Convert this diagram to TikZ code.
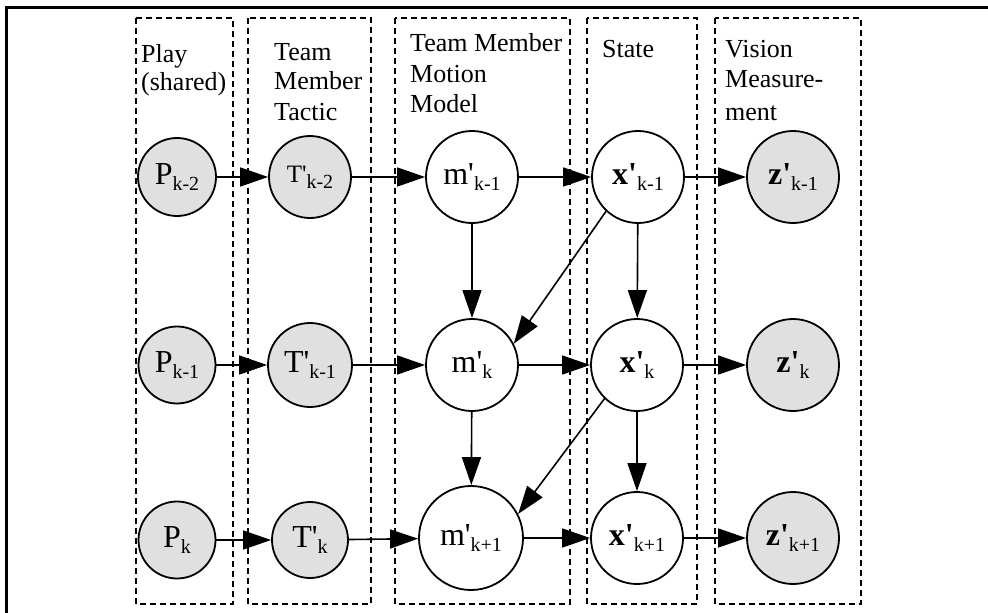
\documentclass[tikz,border=0pt]{standalone}
\usepackage{fontspec}
\setmainfont{Liberation Serif}
\usetikzlibrary{arrows.meta}
\definecolor{nodegray}{RGB}{224,224,224}
\newcommand\nodelab[3][32]{{\fontsize{#1}{#1}\selectfont #2}\raisebox{-6pt}{\fontsize{20}{20}\selectfont #3}}
\newcommand\pr{\textquotesingle}
\tikzset{
  obsnode/.style={circle, draw, line width=1.8pt, fill=nodegray, inner sep=0pt},
  hidnode/.style={circle, draw, line width=1.8pt, fill=white, inner sep=0pt},
  link/.style={line width=1.6pt, -{Triangle[length=28pt,width=19pt]}},
  lane/.style={line width=1.7pt, dash pattern=on 6pt off 4pt},
  lanetext/.style={font=\fontsize{26}{30}\selectfont, inner sep=0pt, anchor=base west},
}
\begin{document}
\begin{tikzpicture}[x=1pt,y=-1pt]
\useasboundingbox (0,0) rectangle (988,613);
% outer frame (cropped)
\draw[line width=3pt] (6,613) -- (6,7) -- (988,7);
% lanes
\draw[lane] (136,18) rectangle (233,604);
\draw[lane] (248,18) rectangle (371,604);
\draw[lane] (395,18) rectangle (570,604);
\draw[lane] (587,18) rectangle (697,604);
\draw[lane] (715,18) rectangle (861,604);
% lane titles
\node[lanetext] (l1a) at (141,62) {Play};
\node[lanetext] (l1b) at (141,90) {(shared)};
\node[lanetext] (l2a) at (274,60) {Team};
\node[lanetext] (l2b) at (274,89) {Member};
\node[lanetext] (l2c) at (274,120) {Tactic};
\node[lanetext] (l3a) at (410,51) {Team Member};
\node[lanetext] (l3b) at (410,82) {Motion};
\node[lanetext] (l3c) at (410,112) {Model};
\node[lanetext] (l4a) at (602,57) {State};
\node[lanetext] (l5a) at (725,57) {Vision};
\node[lanetext] (l5b) at (725,87) {Measure-};
\node[lanetext] (l5c) at (725,120) {ment};
% nodes
\node[obsnode, minimum size=78pt] (P1) at (177,177) {\nodelab{P}{k-2}};
\node[obsnode, minimum size=77pt] (P2) at (177,365) {\nodelab{P}{k-1}};
\node[obsnode, minimum size=77pt] (P3) at (177,540) {\nodelab{P}{k}};
\node[obsnode, minimum size=82pt] (T1) at (310,177) {\nodelab[25]{T\pr}{k-2}};
\node[obsnode, minimum size=84pt] (T2) at (310,365) {\nodelab{T\pr}{k-1}};
\node[obsnode, minimum size=76pt] (T3) at (310,540) {\nodelab{T\pr}{k}};
\node[hidnode, minimum size=92pt] (M1) at (472,177) {\nodelab{m\pr}{k-1}};
\node[hidnode, minimum size=92pt] (M2) at (472,365) {\nodelab{m\pr}{k}};
\node[hidnode, minimum size=104pt] (M3) at (471,538) {\nodelab{m\pr}{k+1}};
\node[hidnode, minimum size=92pt] (X1) at (638,177) {\nodelab{\bfseries x\pr}{k-1}};
\node[hidnode, minimum size=92pt] (X2) at (637,365) {\nodelab{\bfseries x\pr}{k}};
\node[hidnode, minimum size=92pt] (X3) at (637,538) {\nodelab{\bfseries x\pr}{k+1}};
\node[obsnode, minimum size=92pt] (Z1) at (793,177) {\nodelab{\bfseries z\pr}{k-1}};
\node[obsnode, minimum size=92pt] (Z2) at (793,365) {\nodelab{\bfseries z\pr}{k}};
\node[obsnode, minimum size=92pt] (Z3) at (793,538) {\nodelab{\bfseries z\pr}{k+1}};
% horizontal edges
\foreach \r in {1,2,3}{
  \draw[link] (P\r) -- (T\r);
  \draw[link] (T\r) -- (M\r);
  \draw[link] (M\r) -- (X\r);
  \draw[link] (X\r) -- (Z\r);
}
% vertical edges
\draw[link] (M1) -- (M2);
\draw[link] (M2) -- (M3);
\draw[link] (X1) -- (X2);
\draw[link] (X2) -- (X3);
% diagonal edges
\draw[link] (X1.227) -- (M2.27);
\draw[link] (X2.226) -- (M3.27);
\end{tikzpicture}
\end{document}
